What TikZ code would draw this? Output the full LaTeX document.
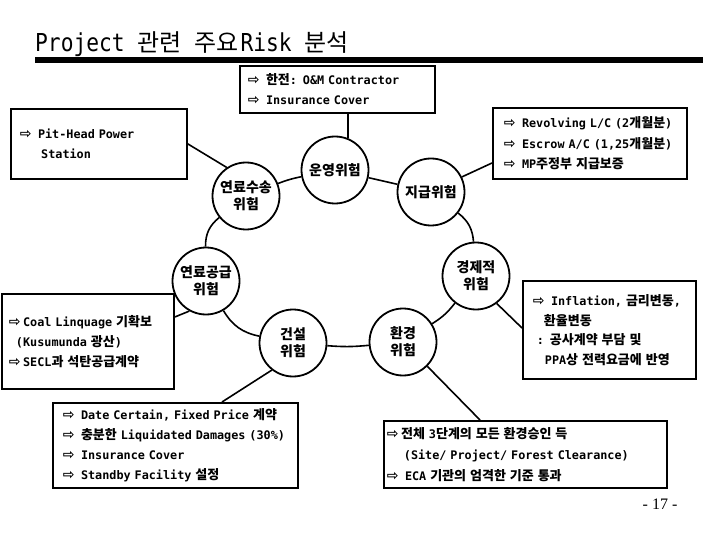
\documentclass[tikz,border=0pt]{standalone}
\usepackage{fontspec}
\setmainfont{DejaVu Sans Mono}
\newfontfamily\ko{Noto Sans CJK KR}
\newfontfamily\sym{DejaVu Sans}
\newfontfamily\titlefont{DejaVu Sans Mono}[FakeStretch=0.86]
\newfontfamily\pagefont{Liberation Serif}
\newcommand\K[1]{{\ko\fontsize{13}{19}\selectfont #1}}
\newcommand\A{\makebox[14.2pt][l]{\sym\fontsize{14}{14}\selectfont ⇨}}
\newcommand\boxfont{\bfseries\fontsize{11.8}{20}\selectfont}
\newcommand\riskfont{\ko\bfseries\fontsize{14}{17}\selectfont}
\tikzset{
  box/.style={draw, line width=1.8pt, anchor=north west, align=left, inner ysep=0pt, font=\boxfont},
  risk/.style={circle, draw, fill=white, line width=1.8pt, minimum size=67pt, inner sep=0pt, align=center, font=\riskfont},
  conn/.style={line width=1.6pt},
}
\begin{document}
\begin{tikzpicture}[x=1pt,y=1pt]
\useasboundingbox (0,0) rectangle (720,-540);
\fill[white] (0,0) rectangle (720,-540);
% title
\node[anchor=base west, inner sep=0pt] (title) at (35,-52)
  {\titlefont\fontsize{24.7}{25}\selectfont Project {\ko\fontsize{24}{25}\selectfont 관련} {\ko\fontsize{24}{25}\selectfont 주요}\hspace{2pt}Risk {\ko\fontsize{24}{25}\selectfont 분석}};
\draw[line width=5.4pt] (35,-60) -- (703,-60);
% boxes
\node[box, text width=179pt, inner xsep=8pt, minimum height=47pt] (ob) at (239,-65)
  {\mbox{\A\ \K{한전}: O\&M Contractor}\\\mbox{\A\ Insurance Cover}};
\node[box, text width=158pt, inner xsep=9pt, minimum height=70pt] (pit) at (10,-108)
  {\mbox{\A\ Pit-Head Power}\\\mbox{\hspace*{21.3pt}Station}};
\node[box, text width=172pt, inner xsep=11pt, minimum height=71pt] (rb) at (492,-107)
  {\mbox{\A\ Revolving L/C (2\K{개월분})}\\[0.5pt]\mbox{\A\ Escrow A/C (1,25\K{개월분})}\\[0.5pt]\mbox{\A\ MP\K{주정부} \K{지급보증}}};
\node[box, text width=158pt, inner xsep=7pt, minimum height=95pt] (coal) at (1,-293)
  {\mbox{\A Coal Linquage \K{기확보}}\\\mbox{\hspace*{7.1pt}(Kusumunda \K{광산})}\\\mbox{\A SECL\K{과} \K{석탄공급계약}}};
\node[box, text width=225pt, inner xsep=10pt, minimum height=85pt] (bl) at (52,-402)
  {\mbox{\A\ Date Certain, Fixed Price \K{계약}}\\\mbox{\A\ \K{충분한} Liquidated Damages (30\%)}\\\mbox{\A\ Insurance Cover}\\\mbox{\A\ Standby Facility \K{설정}}};
\node[box, text width=153pt, inner xsep=10pt, minimum height=98pt] (infl) at (522,-280)
  {\mbox{\A\ Inflation, \K{금리변동},}\\[-0.5pt]\mbox{\hspace*{11pt}\K{환율변동}}\\[-0.5pt]\mbox{\hspace*{4pt}: \K{공사계약} \K{부담} \K{및}}\\[-0.5pt]\mbox{\hspace*{12pt}PPA\K{상} \K{전력요금에} \K{반영}}};
\node[box, text width=277pt, inner xsep=3pt, minimum height=67pt] (br) at (383,-420)
  {\mbox{\A\K{전체} 3\K{단계의} \K{모든} \K{환경승인} \K{득}}\\[1pt]\mbox{\hspace*{17pt}(Site/ Project/ Forest Clearance)}\\[1pt]\mbox{\A\ ECA \K{기관의} \K{엄격한} \K{기준} \K{통과}}};
% risk circles
\node[risk] (op) at (335,-170) {운영위험};
\node[risk] (ls) at (246,-196) {연료수송\\위험};
\node[risk] (jg) at (431,-192) {지급위험};
\node[risk] (lg) at (206,-281) {연료공급\\위험};
\node[risk] (gj) at (476,-276) {경제적\\위험};
\node[risk] (gs) at (293,-343) {건설\\위험};
\node[risk] (hk) at (403,-342) {환경\\위험};
% ring connectors
\draw[conn] (ls) to[bend left=5] (op);
\draw[conn] (op) -- (jg);
\draw[conn] (jg) to[bend left=24] (gj);
\draw[conn] (gj) to[bend left=10] (hk);
\draw[conn] (hk) to[bend left=5] (gs);
\draw[conn] (gs) to[bend left=24] (lg);
\draw[conn] (lg) to[bend left=26] (ls);
% box connectors
\draw[conn] (op.68) -- (op.68 |- ob.south);
\draw[conn] (jg.26) -- ([yshift=-56pt]rb.north west);
\draw[conn] (ls.124) -- (pit.east);
\draw[conn] (lg.241) -- ([yshift=-24pt]coal.north east);
\draw[conn] (gj.-53) -- ([yshift=-48pt]infl.north west);
\draw[conn] (gs.232) -- ([xshift=170pt]bl.north west);
\draw[conn] (hk.-45) -- ([xshift=97pt]br.north west);
% page number
\node[font=\pagefont\fontsize{16}{16}\selectfont, inner sep=0pt] (pg) at (660,-504) {- 17 -};
\end{tikzpicture}
\end{document}
